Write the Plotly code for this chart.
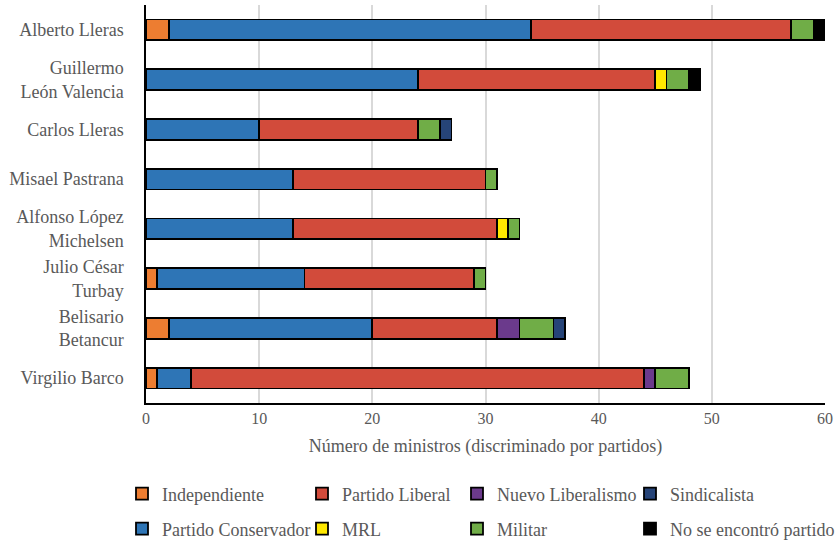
import plotly.graph_objects as go

presidents = ["Alberto Lleras", "Guillermo<br>León Valencia", "Carlos Lleras", "Misael Pastrana",
              "Alfonso López<br>Michelsen", "Julio César<br>Turbay", "Belisario<br>Betancur", "Virgilio Barco"]

independiente = [2, 0, 0, 0, 0, 1, 2, 1]
conservador   = [32, 24, 10, 13, 13, 13, 18, 3]
liberal       = [23, 21, 14, 17, 18, 15, 11, 40]
mrl           = [0, 1, 0, 0, 1, 0, 0, 0]
nuevo_lib     = [0, 0, 0, 0, 0, 0, 2, 1]
militar       = [2, 2, 2, 1, 1, 1, 3, 3]
sindicalista  = [0, 0, 1, 0, 0, 0, 1, 0]
no_encontro   = [1, 1, 0, 0, 0, 0, 0, 0]

series_names = ["Independiente", "Partido Conservador", "Partido Liberal", "MRL",
                "Nuevo Liberalismo", "Militar", "Sindicalista", "No se encontró partido"]
series_values = [independiente, conservador, liberal, mrl, nuevo_lib, militar, sindicalista, no_encontro]
series_colors = ["#ED7D31", "#2E75B6", "#D24B3B", "#FFE800", "#6B3A8C", "#70AD47", "#264478", "#000000"]

FONT = "Liberation Serif"
GRAY = "#595959"

# Legend placement (pixel x of entry, row) mimicking the two-row legend
W, H = 838, 541
ML, MR, MT, MB = 146, 13, 5, 138
PW, PH = W - ML - MR, H - MT - MB
leg_px = [(122, 0), (122, 1), (302, 0), (302, 1), (457, 0), (457, 1), (630, 0), (630, 1)]
row_py = [494, 529]

fig = go.Figure()
layout_legends = {}
for i, (name, vals, color) in enumerate(zip(series_names, series_values, series_colors)):
    key = "legend" if i == 0 else f"legend{i+1}"
    fig.add_trace(go.Bar(
        y=presidents, x=vals, name=name, orientation="h",
        marker=dict(color=color, line=dict(color="#000000", width=1.8)),
        legend=key, showlegend=True,
    ))
    px, row = leg_px[i]
    layout_legends[key] = dict(
        x=(px - ML) / PW, xanchor="left",
        y=(H - MB - row_py[row]) / PH, yanchor="middle",
        font=dict(size=18, color=GRAY, family=FONT),
        itemwidth=30, bgcolor="rgba(0,0,0,0)", borderwidth=0, visible=True,
    )

fig.update_layout(
    barmode="stack",
    bargap=0.58,
    showlegend=True,
    width=W, height=H,
    margin=dict(l=ML, r=MR, t=MT, b=MB, autoexpand=False),
    paper_bgcolor="white", plot_bgcolor="white",
    font=dict(family=FONT, size=18, color=GRAY),
    xaxis=dict(range=[0, 60], dtick=10, showgrid=True, gridcolor="#D9D9D9", gridwidth=2,
               showline=True, linecolor="#000000", linewidth=1.5, zeroline=False,
               tickfont=dict(size=16, color=GRAY), ticks="", automargin=False,
               title=dict(text="Número de ministros (discriminado por partidos)",
                          font=dict(size=18, color=GRAY), standoff=13)),
    yaxis=dict(autorange="reversed", showline=True, linecolor="#000000", linewidth=1.5,
               showgrid=False, ticks="", ticklabelstandoff=17, automargin=False,
               tickfont=dict(size=18, color=GRAY)),
    **layout_legends,
)

fig.write_html("out.html", config={"displayModeBar": False},
               post_script="document.body.style.margin='0';")
